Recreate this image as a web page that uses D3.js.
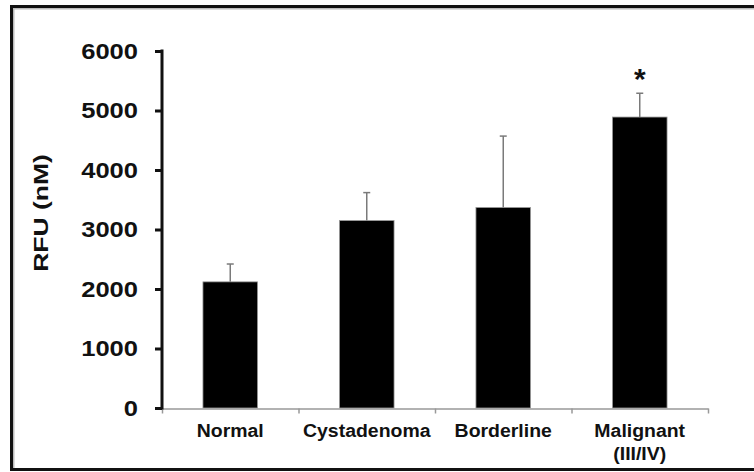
<!DOCTYPE html>
<html>
<head>
<meta charset="utf-8">
<script src="https://cdn.jsdelivr.net/npm/d3@7/dist/d3.min.js"></script>
<style>
  html, body { margin: 0; padding: 0; background: #fff; }
  svg { display: block; }
  text { font-family: "Liberation Sans", Arial, sans-serif; font-weight: bold; fill: #111; }
</style>
</head>
<body>
<main></main>
<script>
// values
let categories = ["Normal", "Cystadenoma", "Borderline", "Malignant (III/IV)"]
let labelLines = [["Normal"], ["Cystadenoma"], ["Borderline"], ["Malignant", "(III/IV)"]]
let means = [2120, 3150, 3370, 4890]
let errors = [300, 470, 1200, 400]
let marks = ["", "", "", "*"]
let yTicks = [0, 1000, 2000, 3000, 4000, 5000, 6000]

let width = 754, height = 472

let svg = d3.select('main')
    .append('svg')
    .attr('width', width)
    .attr('height', height)

// outer frame (right side runs off the picture)
svg.append("rect")
    .attr("x", 13.5)
    .attr("y", 8.5)
    .attr("width", 780)
    .attr("height", 461)
    .attr("fill", "none")
    .attr("stroke", "#bbb")
    .attr("stroke-width", 2)
svg.append("rect")
    .attr("x", 11.5)
    .attr("y", 6.5)
    .attr("width", 780)
    .attr("height", 463)
    .attr("fill", "none")
    .attr("stroke", "#111")
    .attr("stroke-width", 3)

let x = d3.scaleBand()
    .domain(categories)
    .range([162, 708])
    .paddingInner(0.6)
    .paddingOuter(0.3)

let y = d3.scaleLinear()
    .domain([0, 6000])
    .range([408, 51])

// stretch text horizontally so it fills the same room as the original
function stretch(sel, k) {
    sel.each(function () {
        let len = this.getComputedTextLength()
        d3.select(this)
            .attr("textLength", len * k)
            .attr("lengthAdjust", "spacingAndGlyphs")
    })
}

// x axis: grey line with ticks between the groups
let xEdges = d3.scaleLinear().domain([0, categories.length]).range(x.range())
let xAxis = svg.append("g")
    .attr("transform", "translate(0,408.5)")
    .call(d3.axisBottom(xEdges).ticks(categories.length).tickSize(5).tickSizeOuter(0).tickFormat(""))
xAxis.select(".domain").attr("stroke", "#999").attr("stroke-width", 1.5)
xAxis.selectAll(".tick line").attr("stroke", "#999").attr("stroke-width", 1.5)

// bars
svg.append("g")
    .selectAll("rect")
    .data(categories)
    .enter()
    .append("rect")
    .attr("x", d => x(d))
    .attr("y", (d, i) => y(means[i]))
    .attr("width", x.bandwidth())
    .attr("height", (d, i) => y(0) - y(means[i]))
    .attr("fill", "#000")
    .attr("stroke", "#999")
    .attr("stroke-width", 0.8)

// upper error bars
let err = svg.append("g")
    .selectAll("g")
    .data(categories)
    .enter()
    .append("g")
err.append("line")
    .attr("x1", d => x(d) + x.bandwidth() / 2)
    .attr("x2", d => x(d) + x.bandwidth() / 2)
    .attr("y1", (d, i) => y(means[i]))
    .attr("y2", (d, i) => y(means[i] + errors[i]))
    .attr("stroke", "#7a7a7a")
    .attr("stroke-width", 1.5)
err.append("line")
    .attr("x1", d => x(d) + x.bandwidth() / 2 - 3.5)
    .attr("x2", d => x(d) + x.bandwidth() / 2 + 3.5)
    .attr("y1", (d, i) => y(means[i] + errors[i]))
    .attr("y2", (d, i) => y(means[i] + errors[i]))
    .attr("stroke", "#7a7a7a")
    .attr("stroke-width", 1.5)

// significance star
svg.append("g")
    .selectAll("text")
    .data(categories)
    .enter()
    .append("text")
    .attr("x", d => x(d) + x.bandwidth() / 2)
    .attr("y", (d, i) => y(means[i] + errors[i]) - 4)
    .attr("text-anchor", "middle")
    .style("font-size", "30px")
    .text((d, i) => marks[i])

// y axis
let yAxis = svg.append("g")
    .attr("transform", "translate(162,0)")
    .call(d3.axisLeft(y).tickValues(yTicks).tickSize(7).tickSizeOuter(0).tickPadding(17).tickFormat(d3.format("d")))
yAxis.select(".domain").attr("stroke", "#111").attr("stroke-width", 3)
    .attr("d", "M0," + (y(6000) - 1.5) + "V" + (y(0) + 1.5))
yAxis.selectAll(".tick line").attr("stroke", "#111").attr("stroke-width", 3)
yAxis.selectAll(".tick text")
    .style("font-size", "22px")
    .style("font-family", "'Liberation Sans', Arial, sans-serif")
    .style("font-weight", "bold")
    .attr("fill", "#111")
stretch(yAxis.selectAll(".tick text"), 1.16)

// category labels
let catLabels = svg.append("g")
    .selectAll("text")
    .data(categories)
    .enter()
    .append("text")
    .attr("text-anchor", "middle")
    .style("font-size", "18px")
catLabels.selectAll("tspan")
    .data((d, i) => labelLines[i].map((t, j) => ({ t: t, j: j, cx: x(d) + x.bandwidth() / 2 })))
    .enter()
    .append("tspan")
    .attr("x", d => d.cx)
    .attr("y", d => 437 + d.j * 23)
    .text(d => d.t)
catLabels.selectAll("tspan").each(function () {
    let len = this.getComputedTextLength()
    d3.select(this).attr("textLength", len * 1.08).attr("lengthAdjust", "spacingAndGlyphs")
})

// y axis title
let yTitle = svg.append("text")
    .attr("transform", "translate(48,213) rotate(-90)")
    .attr("text-anchor", "middle")
    .style("font-size", "21px")
    .text("RFU (nM)")
stretch(yTitle, 1.26)
</script>
</body>
</html>
